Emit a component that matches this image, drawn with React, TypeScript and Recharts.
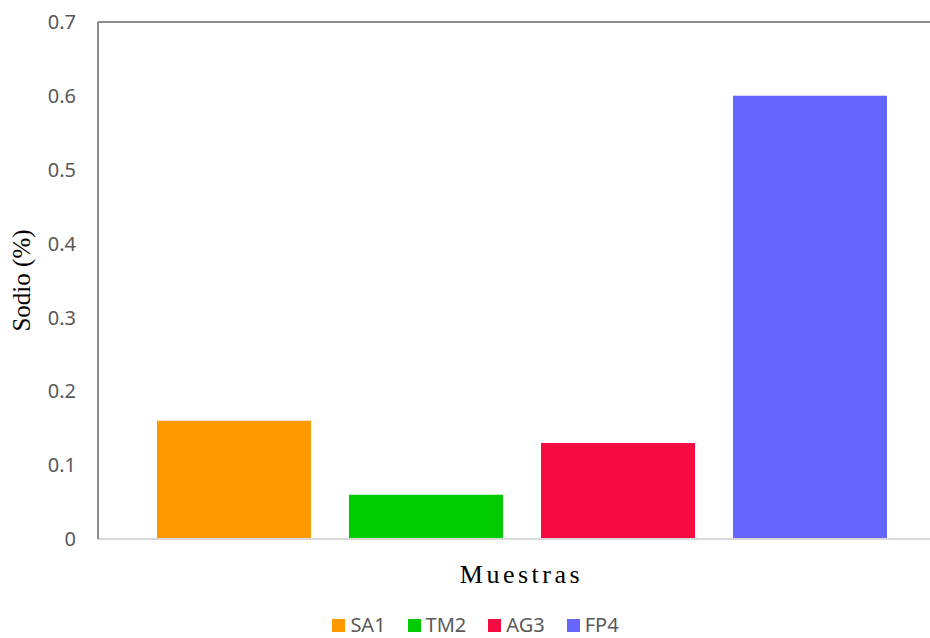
import { BarChart, Bar, XAxis, YAxis, Legend, ReferenceLine } from "recharts";

const SAMPLES = ["SA1", "TM2", "AG3", "FP4"];
const SODIUM = [0.16, 0.06, 0.13, 0.6];
const COLORS = ["#FF9900", "#00CC00", "#F50B41", "#6666FF"];
const Y_TICKS = [0, 0.1, 0.2, 0.3, 0.4, 0.5, 0.6, 0.7];

const row: Record<string, number | string> = { name: "Muestras" };
SAMPLES.forEach((s, i) => {
  row[s] = SODIUM[i];
});
const data = [row];

const tickStyle = { fill: "#595959", fontSize: 20, fontFamily: "Noto Sans, sans-serif" };

const LegendBox = () => (
  <div
    style={{
      height: 39,
      display: "flex",
      justifyContent: "center",
      alignItems: "flex-end",
      gap: 22,
      fontFamily: "Noto Sans, sans-serif",
      fontSize: 20,
      lineHeight: "22px",
      color: "#595959",
      marginLeft: 6,
    }}
  >
    {SAMPLES.map((s, i) => (
      <div key={s} style={{ display: "flex", alignItems: "center", gap: 5, marginBottom: 2 }}>
        <span style={{ width: 13, height: 13, background: COLORS[i], display: "inline-block" }} />
        <span>{s}</span>
      </div>
    ))}
  </div>
);

const App = () => {
  return (
    <div style={{ position: "absolute", left: 0, top: 0, width: 930, height: 638, overflow: "hidden", background: "#fff" }}>
      <BarChart
        width={950}
        height={638}
        data={data}
        margin={{ top: 22, right: 5, left: 0, bottom: 0 }}
        barSize={154}
        barGap={38}
      >
        <XAxis
          dataKey="name"
          tick={false}
          tickLine={false}
          axisLine={{ stroke: "#d9d9d9", strokeWidth: 2 }}
          height={60}
          label={{
            value: "Muestras",
            position: "insideTop",
            offset: 26,
            fill: "#000",
            fontSize: 26,
            fontFamily: "Liberation Serif, Times New Roman, serif",
            letterSpacing: 3.5,
          }}
        />
        <YAxis
          domain={[0, 0.7]}
          ticks={Y_TICKS}
          width={98}
          tickLine={false}
          tickSize={0}
          tickMargin={22}
          tick={tickStyle}
          axisLine={{ stroke: "#8c8c8c", strokeWidth: 2 }}
          label={{
            content: ({ viewBox }: any) => (
              <text
                x={0}
                y={0}
                transform={`translate(30, ${viewBox.y + viewBox.height / 2}) rotate(-90)`}
                textAnchor="middle"
                fontSize={25}
                fontFamily="Liberation Serif, Times New Roman, serif"
                fill="#000"
              >
                Sodio (%)
              </text>
            ),
          }}
        />
        <ReferenceLine y={0.7} stroke="#8c8c8c" strokeWidth={2} />
        {SAMPLES.map((s, i) => (
          <Bar key={s} dataKey={s} fill={COLORS[i]} isAnimationActive={false} />
        ))}
        <Legend verticalAlign="bottom" content={() => <LegendBox />} />
      </BarChart>
    </div>
  );
};

export default App;
